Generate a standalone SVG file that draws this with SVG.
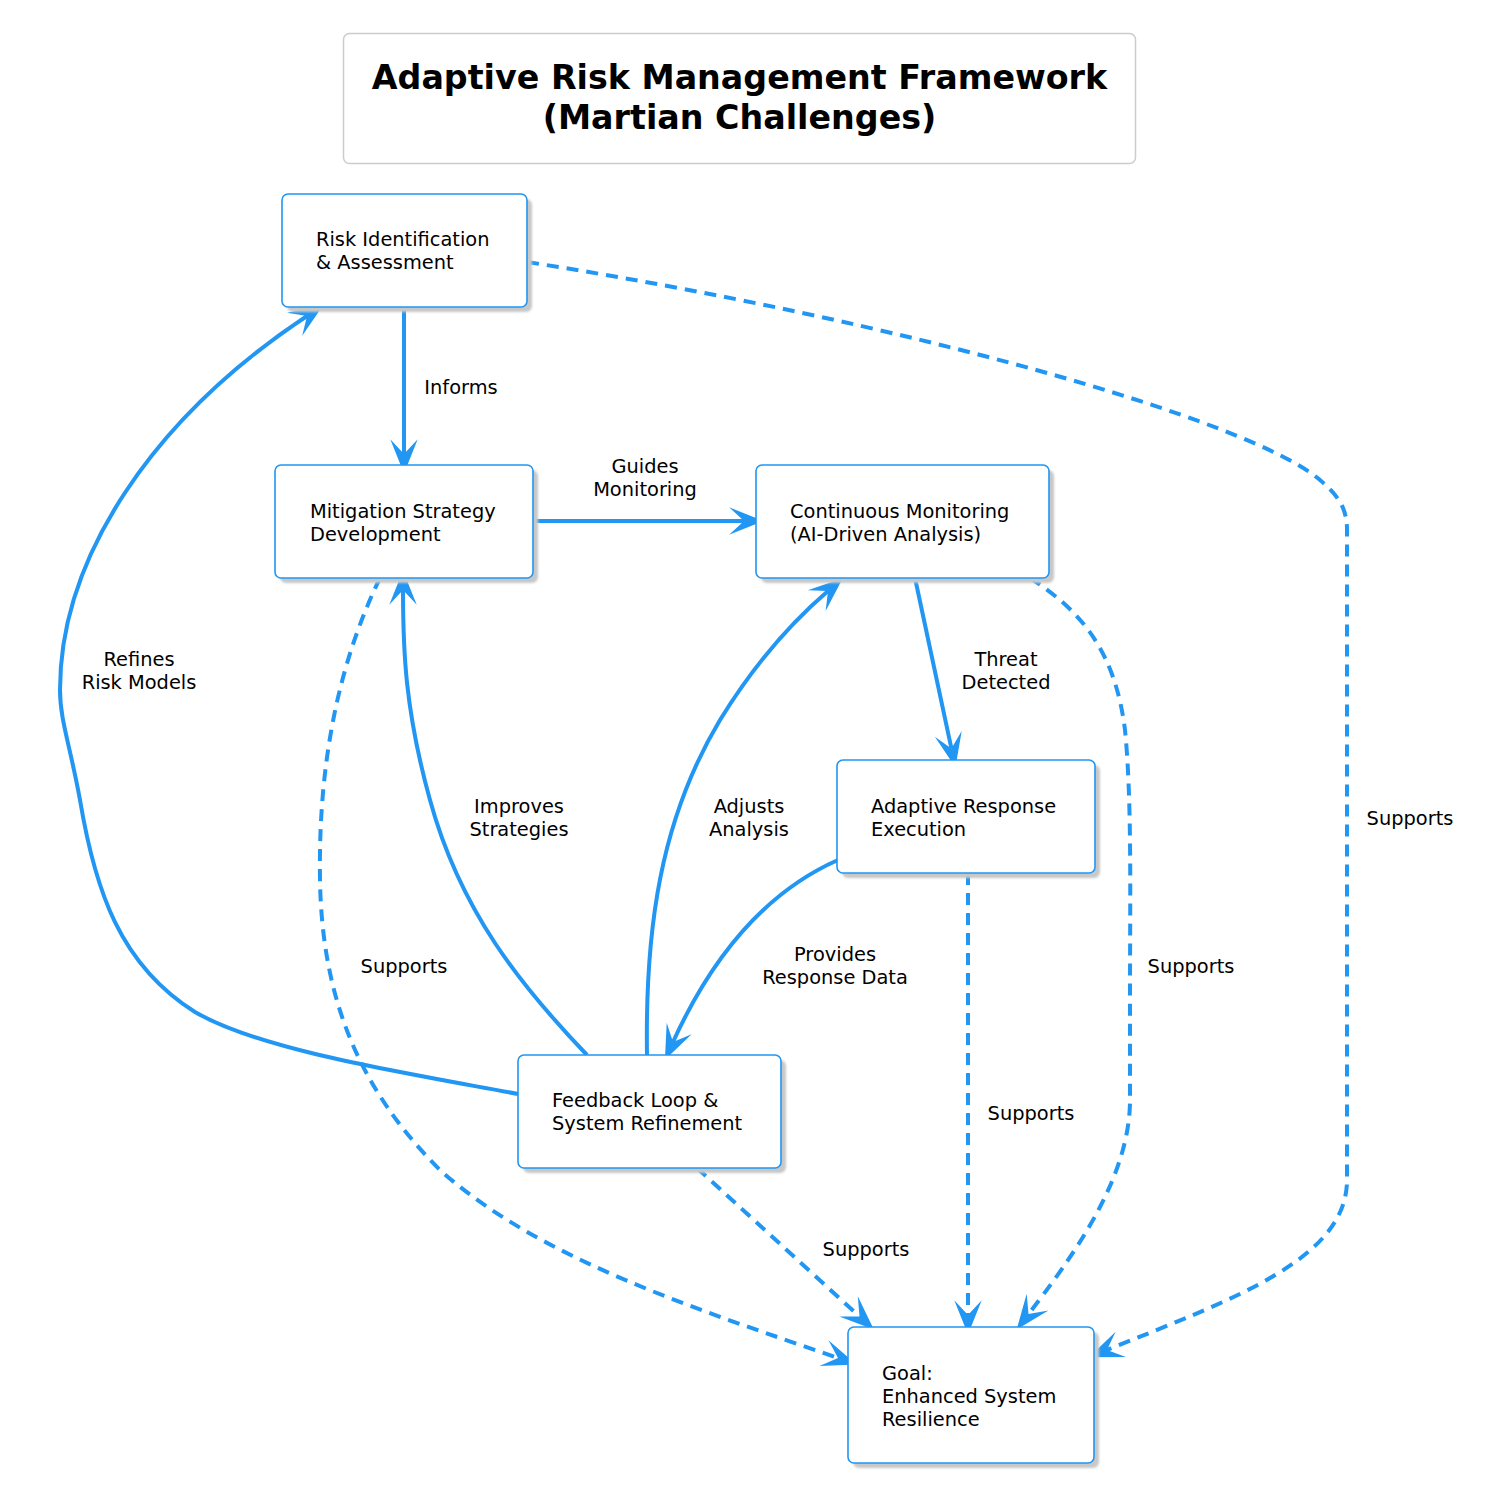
<svg xmlns="http://www.w3.org/2000/svg" width="1492" height="1490" viewBox="0 0 1492 1490">
<defs>
<filter id="blur" x="-10%" y="-10%" width="120%" height="120%"><feGaussianBlur stdDeviation="1"/></filter>
<marker id="vee" markerUnits="userSpaceOnUse" markerWidth="40" markerHeight="40" viewBox="-15 -15 35 30" refX="0" refY="0" orient="auto" overflow="visible">
<path d="M17,0 L-13,-12 L0,0 L-13,12 Z" fill="#2196F3"/>
</marker>
<style>
.node rect.box{fill:#fff;stroke:#2196F3;stroke-width:1.6}
.node rect.shadow{fill:#c8c8c8;filter:url(#blur)}
.t{font-family:"DejaVu Sans",Verdana,sans-serif;font-size:19.4px;fill:#000}
.title{font-family:"DejaVu Sans",Verdana,sans-serif;font-size:33.3px;font-weight:bold;fill:#000;text-anchor:middle}
.lbl{font-family:"DejaVu Sans",Verdana,sans-serif;font-size:19.4px;fill:#000;text-anchor:middle}
.e{fill:none;stroke:#2196F3;stroke-width:4;marker-end:url(#vee)}
.d{stroke-dasharray:12,8}
</style>
</defs>
<rect width="1492" height="1490" fill="#fff"/>
<g id="title">
<rect x="343.5" y="33.5" width="792" height="130" rx="6" fill="#fff" stroke="#cccccc" stroke-width="1.5"/>
<text class="title" x="739.5" y="89">Adaptive Risk Management Framework</text>
<text class="title" x="739.5" y="129">(Martian Challenges)</text>
</g>
<g id="connectors">
<path class="e" d="M404,307 L404,454"/>
<path class="e" d="M533,521 L744,521"/>
<path class="e" d="M915,578 L951.4,748.4"/>
<path class="e" d="M838,860 C770,890 715,950 673,1042"/>
<path class="e" d="M647,1055 C645,930 660,820 720,720 C760,655 800,615 828,591"/>
<path class="e" d="M587,1055 C520,985 460,910 430,800 C405,710 403,650 403,590"/>
<path class="e" d="M518,1094 C400,1072 260,1050 195,1012 C120,965 95,890 80,800 C70,745 60,720 60,690 C60,560 150,420 307,316"/>
<path class="e d" d="M527,262 C900,320 1250,420 1320,480 C1340,497 1347,510 1347,530 L1347,1180 C1347,1260 1230,1300 1107,1350"/>
<path class="e d" d="M1030,578 C1080,610 1115,650 1125,730 C1132,800 1130,900 1130,1000 L1130,1100 C1130,1180 1070,1260 1028.5,1314"/>
<path class="e d" d="M968,873 L968,1315"/>
<path class="e d" d="M697,1168 L859.5,1316.5"/>
<path class="e d" d="M380,578 C340,660 318,760 320,880 C322,1000 360,1090 440,1170 C540,1260 700,1310 838,1358"/>
<text class="lbl" x="461" y="394">Informs</text>
<text class="lbl" x="645" y="473">Guides</text>
<text class="lbl" x="645" y="496">Monitoring</text>
<text class="lbl" x="1006" y="666">Threat</text>
<text class="lbl" x="1006" y="689">Detected</text>
<text class="lbl" x="835" y="961">Provides</text>
<text class="lbl" x="835" y="984">Response Data</text>
<text class="lbl" x="749" y="813">Adjusts</text>
<text class="lbl" x="749" y="836">Analysis</text>
<text class="lbl" x="519" y="813">Improves</text>
<text class="lbl" x="519" y="836">Strategies</text>
<text class="lbl" x="139" y="666">Refines</text>
<text class="lbl" x="139" y="689">Risk Models</text>
<text class="lbl" x="1410" y="825">Supports</text>
<text class="lbl" x="1191" y="973">Supports</text>
<text class="lbl" x="1031" y="1120">Supports</text>
<text class="lbl" x="866" y="1256">Supports</text>
<text class="lbl" x="404" y="973">Supports</text>
</g>
<g id="risk_identification" class="node">
<rect class="shadow" x="287" y="199" width="245" height="113" rx="6"/>
<rect class="box" x="282" y="194" width="245" height="113" rx="6"/>
<text class="t" x="316" y="246">Risk Identification</text>
<text class="t" x="316" y="269">&amp; Assessment</text>
</g>
<g id="mitigation_strategy" class="node">
<rect class="shadow" x="280" y="470" width="258" height="113" rx="6"/>
<rect class="box" x="275" y="465" width="258" height="113" rx="6"/>
<text class="t" x="310" y="518">Mitigation Strategy</text>
<text class="t" x="310" y="541">Development</text>
</g>
<g id="continuous_monitoring" class="node">
<rect class="shadow" x="761" y="470" width="293" height="113" rx="6"/>
<rect class="box" x="756" y="465" width="293" height="113" rx="6"/>
<text class="t" x="790" y="518">Continuous Monitoring</text>
<text class="t" x="790" y="541">(AI-Driven Analysis)</text>
</g>
<g id="adaptive_response" class="node">
<rect class="shadow" x="842" y="765" width="258" height="113" rx="6"/>
<rect class="box" x="837" y="760" width="258" height="113" rx="6"/>
<text class="t" x="871" y="813">Adaptive Response</text>
<text class="t" x="871" y="836">Execution</text>
</g>
<g id="feedback_loop" class="node">
<rect class="shadow" x="523" y="1060" width="263" height="113" rx="6"/>
<rect class="box" x="518" y="1055" width="263" height="113" rx="6"/>
<text class="t" x="552" y="1107">Feedback Loop &amp;</text>
<text class="t" x="552" y="1130">System Refinement</text>
</g>
<g id="goal" class="node">
<rect class="shadow" x="853" y="1332" width="246" height="136" rx="6"/>
<rect class="box" x="848" y="1327" width="246" height="136" rx="6"/>
<text class="t" x="882" y="1380">Goal:</text>
<text class="t" x="882" y="1403">Enhanced System</text>
<text class="t" x="882" y="1426">Resilience</text>
</g>
</svg>
